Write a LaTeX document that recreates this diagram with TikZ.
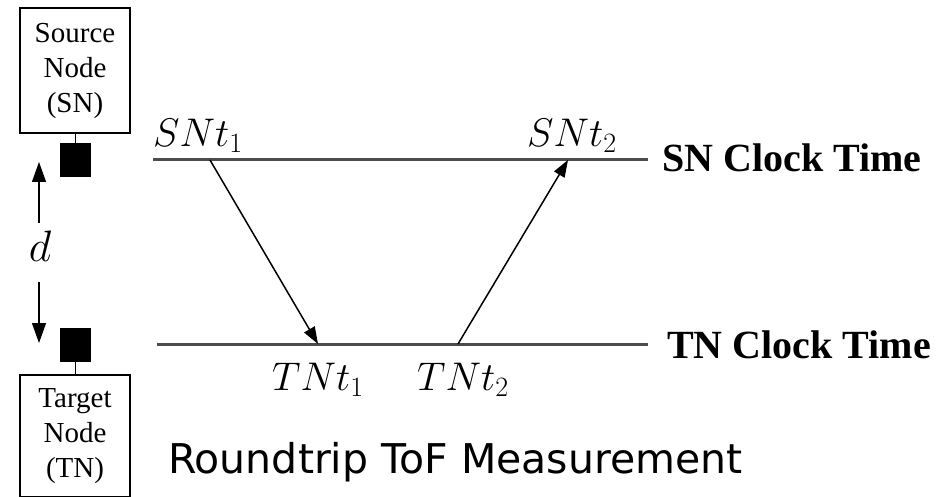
\RequirePackage{fix-cm}
\documentclass[tikz,border=0pt]{standalone}
\usepackage{fontspec}
\setmainfont{Liberation Serif}
\newfontfamily\capfont{DejaVu Sans}
\usetikzlibrary{positioning, calc, arrows.meta}

\tikzset{
  nodebox/.style={draw, line width=1.5pt, minimum width=110pt, align=center,
    font=\fontsize{29}{35}\selectfont},
  antenna/.style={fill=black, minimum width=31pt, minimum height=34pt, inner sep=0pt},
  clockline/.style={line width=3pt, black!70},
  msg/.style={line width=1.5pt, -{Triangle[length=17pt,width=12pt]}},
  tlabel/.style={font=\fontsize{40}{40}\selectfont, inner sep=0pt, anchor=base west},
  clocklabel/.style={font=\fontsize{40}{40}\selectfont\bfseries, inner sep=0pt, anchor=base west}
}

\begin{document}
\begin{tikzpicture}[x=1pt,y=1pt]
    \useasboundingbox (0,0) rectangle (939,496);
    %nodo sorgente e nodo destinazione
    \node[nodebox, minimum height=125pt] (sn) at (75,425.5) {Source\\Node\\(SN)};
    \node[antenna] (snsq) at (75.5,336) {};
    \draw[line width=1.5pt] (sn.south -| snsq) -- (snsq.north);
    \node[nodebox, minimum height=122pt] (tn) at (75,60) {Target\\Node\\(TN)};
    \node[antenna] (tnsq) at (75.5,151.5) {};
    \draw[line width=1.5pt] (tnsq.south) -- (tn.north -| tnsq);

    %distanza d
    \node[font=\fontsize{44}{44}\selectfont, inner sep=0pt] (d) at (40,250) {$d$};
    \coordinate (dtop) at (39,334);
    \coordinate (dbot) at (39,153);
    \draw[line width=1.3pt, -{Triangle[length=20pt,width=14pt]}] (39,273) -- (dtop);
    \draw[line width=1.3pt, -{Triangle[length=20pt,width=14pt]}] (39,214) -- (dbot);

    %linee del tempo
    \coordinate (snA) at (153,336);
    \coordinate (snB) at (648,336);
    \coordinate (tnA) at (157,152);
    \coordinate (tnB) at (648,152);
    \draw[clockline] (snA) -- (snB);
    \draw[clockline] (tnA) -- (tnB);
    \node[clocklabel] (snclk) at (662,324) {SN Clock Time};
    \node[clocklabel] (tnclk) at (667,138) {TN Clock Time};

    %istanti di tempo
    \coordinate (s1) at (210,336);
    \coordinate (t1) at (318,152);
    \coordinate (t2) at (458,152);
    \coordinate (s2) at (568,336);
    \draw[msg] (s1) -- (t1);
    \draw[msg] (t2) -- (s2);
    \node[tlabel] (lsn1) at (153,349) {$SNt_1$};
    \node[tlabel] (lsn2) at (527,349) {$SNt_2$};
    \node[tlabel] (ltn1) at (272,106) {$TNt_1$};
    \node[tlabel] (ltn2) at (417,106) {$TNt_2$};

    %didascalia
    \node[font=\capfont\fontsize{41}{41}\selectfont, inner sep=0pt, anchor=base west] (cap) at (168,23) {Roundtrip ToF Measurement};
\end{tikzpicture}
\end{document}
